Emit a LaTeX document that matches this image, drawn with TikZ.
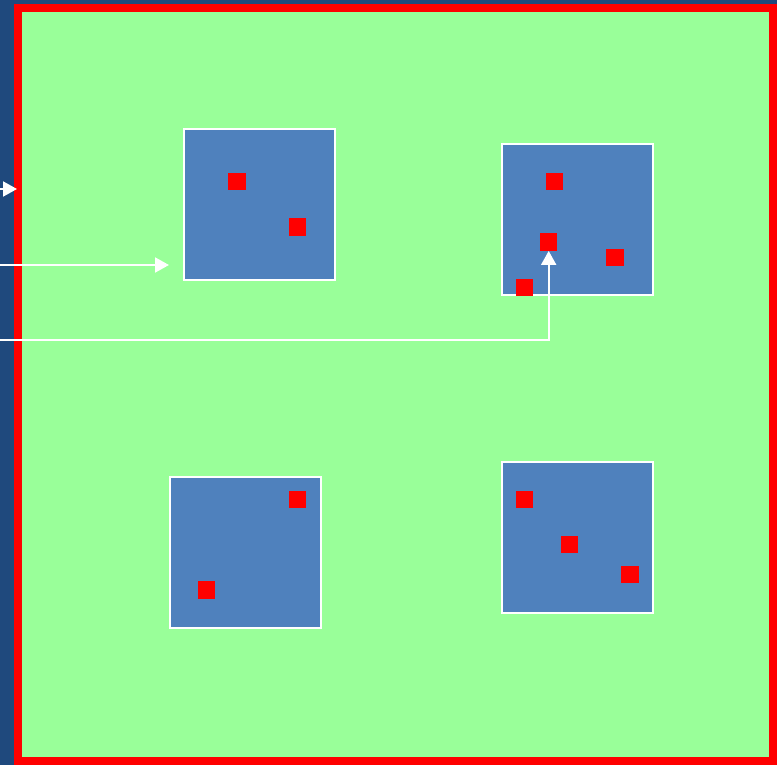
\documentclass[tikz,border=0pt]{standalone}
\usetikzlibrary{arrows.meta}
\definecolor{diagramBg}{HTML}{1F497D}
\definecolor{diagramFrame}{HTML}{FF0000}
\definecolor{diagramField}{HTML}{99FF99}
\definecolor{diagramCell}{HTML}{4F81BD}
\definecolor{diagramDot}{HTML}{FF0000}
\begin{document}
\begin{tikzpicture}[
    x=1pt,y=-1pt,>=Triangle,
    cell/.style={draw=white,fill=diagramCell,line width=2pt,inner sep=0pt,minimum size=151pt},
    dot/.style={fill=diagramDot,inner sep=0pt,minimum size=17.5pt},
    flow/.style={-{Triangle[length=14pt,width=15pt]},draw=white,line width=2pt}
]
\useasboundingbox (0,0) rectangle (777,765);
\fill[diagramBg] (0,0) rectangle (777,765);
\draw[draw=diagramFrame,fill=diagramField,line width=8pt] (18,8) rectangle (773,761);
\node[cell] (cellA) at (259.5,204.5) {};
\node[cell] (cellB) at (577.5,219.5) {};
\node[cell] (cellC) at (245,552) {};
\node[cell] (cellD) at (577,537) {};
\node[dot] (dotA1) at (237,181.7) {};
\node[dot] (dotA2) at (297.3,227) {};
\node[dot] (dotB1) at (554.7,181.5) {};
\node[dot] (dotB2) at (548.7,242) {};
\node[dot] (dotB3) at (615,257.5) {};
\node[dot] (dotB4) at (524.7,287.5) {};
\node[dot] (dotC1) at (297.5,499.5) {};
\node[dot] (dotC2) at (206.7,590) {};
\node[dot] (dotD1) at (524.5,499.3) {};
\node[dot] (dotD2) at (569.7,544.7) {};
\node[dot] (dotD3) at (630,574.5) {};
\coordinate (inA) at (0,189);
\coordinate (inAend) at (17,189);
\coordinate (inB) at (0,265);
\coordinate (inBend) at (169,265);
\coordinate (inC) at (0,340);
\draw[flow] (inA) -- (inAend);
\draw[flow] (inB) -- (inBend);
\draw[flow] (inC) -| (dotB2);
\end{tikzpicture}
\end{document}
